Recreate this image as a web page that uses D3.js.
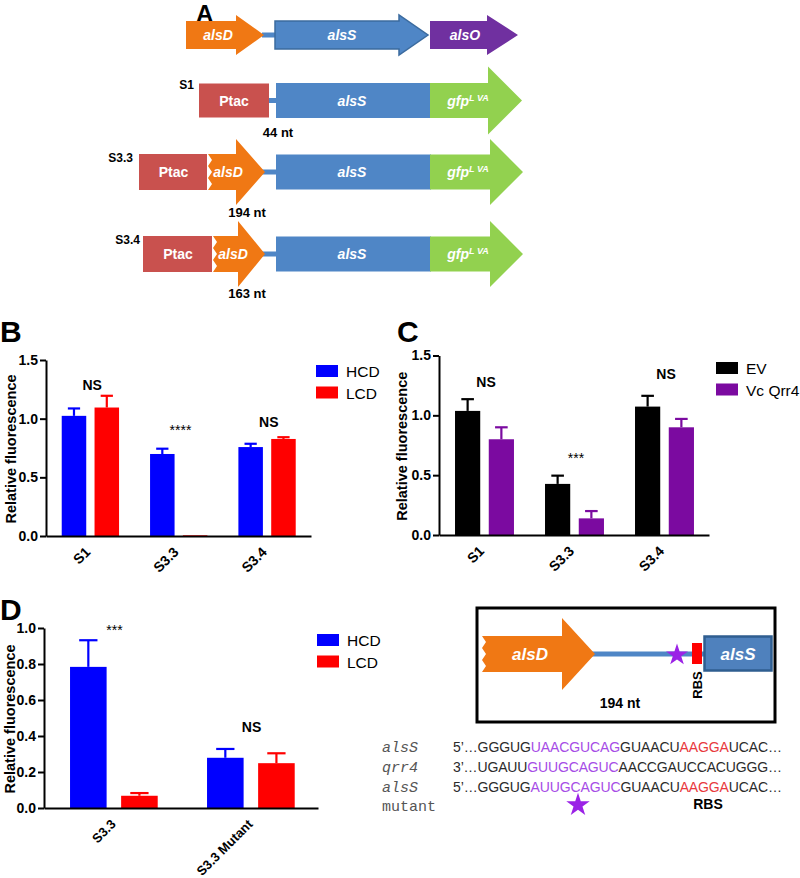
<!DOCTYPE html>
<html><head><meta charset="utf-8">
<script src="https://cdn.jsdelivr.net/npm/d3@7"></script>
<style>
body{margin:0;background:#fff}
svg{display:block;font-family:"Liberation Sans",Arial,sans-serif}
</style>
</head><body>
<svg id="fig" width="800" height="878"></svg>
<script>
// ---------------- data ----------------
const categoriesBC = ["S1", "S3.3", "S3.4"];
const seriesB = ["HCD", "LCD"];
const hcdB = [1.024, 0.699, 0.758];
const hcdBErr = [0.063, 0.045, 0.028];
const lcdB = [1.095, 0.006, 0.827];
const lcdBErr = [0.100, 0.000, 0.015];
const sigB = ["NS", "****", "NS"];
const sigBLevel = [1.245, 0.861, 0.929];

const seriesC = ["EV", "Vc Qrr4"];
const evC = [1.037, 0.427, 1.073];
const evCErr = [0.098, 0.069, 0.090];
const qrrC = [0.800, 0.139, 0.900];
const qrrCErr = [0.100, 0.061, 0.070];
const sigC = ["NS", "***", "NS"];
const sigCLevel = [1.237, 0.602, 1.304];

const categoriesD = ["S3.3", "S3.3 Mutant"];
const seriesD = ["HCD", "LCD"];
const hcdD = [0.784, 0.279];
const hcdDErr = [0.148, 0.049];
const lcdD = [0.068, 0.249];
const lcdDErr = [0.015, 0.055];
const sigD = ["***", "NS"];
const sigDLevel = [0.961, 0.422];

const ticksBC = [0, 0.5, 1.0, 1.5];
const ticksD = [0, 0.2, 0.4, 0.6, 0.8, 1.0];

const colorsHL = ["#0000ff", "#ff0000"];
const colorsEQ = ["#000000", "#7b0aa0"];

const seqLabels = ["alsS", "qrr4", "alsS", "mutant"];
const seqRows = [
  [["5’…GGGUG","n"],["UAACGUCAG","p"],["GUAACU","n"],["AAGGA","r"],["UCAC…","n"]],
  [["3’…UGAUU","n"],["GUUGCAGUC","p"],["AACCGAUCCACUGGG…","n"]],
  [["5’…GGGUG","n"],["AUUGCAGUC","p"],["GUAACU","n"],["AAGGA","r"],["UCAC…","n"]]
];

// ---------------- drawing ----------------
const svg = d3.select("#fig");
const FONT = '"Liberation Sans",Arial,sans-serif';
const MONO = '"Liberation Mono","Courier New",monospace';

function barPanel(o) {
  const g = svg.append("g");
  const x = d3.scaleBand().domain(o.cats).range([o.x0, o.x1]).padding(0);
  const bw = x.bandwidth();
  const xs = d3.scaleBand().domain(o.series).range([o.inner[0]*bw, o.inner[1]*bw]).paddingInner(o.padInner);
  const y = d3.scaleLinear().domain([0, o.max]).range([o.yBot, o.yTop]);

  o.series.forEach((s, si) => {
    const vals = o.vals[si], errs = o.errs[si];
    const gg = g.append("g");
    gg.selectAll("rect").data(o.cats).join("rect")
      .attr("x", c => x(c) + xs(s))
      .attr("y", (c, i) => y(vals[i]))
      .attr("width", xs.bandwidth())
      .attr("height", (c, i) => y(0) - y(vals[i]))
      .attr("fill", o.colors[si]);
    const cw = xs.bandwidth() * 0.5;
    o.cats.forEach((c, i) => {
      if (errs[i] <= 0) return;
      const cx = x(c) + xs(s) + xs.bandwidth()/2;
      gg.append("line").attr("x1", cx).attr("x2", cx)
        .attr("y1", y(vals[i])).attr("y2", y(vals[i] + errs[i]))
        .attr("stroke", o.colors[si]).attr("stroke-width", 2.2);
      gg.append("line").attr("x1", cx - cw/2).attr("x2", cx + cw/2)
        .attr("y1", y(vals[i] + errs[i])).attr("y2", y(vals[i] + errs[i]))
        .attr("stroke", o.colors[si]).attr("stroke-width", 2.2);
    });
  });

  const ya = g.append("g").attr("transform", `translate(${o.x0},0)`)
    .call(d3.axisLeft(y).tickValues(o.ticks).tickFormat(d3.format(".1f")).tickSize(6).tickSizeOuter(0).tickPadding(2));
  ya.select(".domain").attr("stroke-width", 2);
  ya.selectAll(".tick line").attr("stroke-width", 2);
  ya.selectAll(".tick text").style("font-family", FONT).style("font-weight", "bold").style("font-size", "14px").attr("fill", "#000");

  const xa = g.append("g").attr("transform", `translate(0,${o.yBot})`)
    .call(d3.axisBottom(x).tickSize(0).tickSizeOuter(0).tickFormat(""));
  xa.select(".domain").attr("stroke-width", 2);
  g.selectAll("text.cat").data(o.cats).join("text").attr("class", "cat")
    .attr("transform", c => `translate(${x(c) + x.bandwidth()/2 + o.labOff[0]},${o.yBot + o.labOff[1]}) rotate(-45)`)
    .attr("text-anchor", "end").attr("font-weight", "bold").attr("font-size", o.labSize)
    .text(c => c);

  g.append("text").attr("transform", `translate(${o.titleX},${(o.yTop + o.yBot)/2 + 1}) rotate(-90)`)
    .attr("text-anchor", "middle").attr("font-weight", "bold").attr("font-size", 14.5)
    .text("Relative fluorescence");

  g.selectAll("text.sig").data(o.cats).join("text").attr("class", "sig")
    .attr("x", c => x(c) + x.bandwidth()/2 + 2)
    .attr("y", (c, i) => y(o.sigLevel[i]))
    .attr("text-anchor", "middle")
    .attr("font-weight", (c, i) => o.sig[i] === "NS" ? "bold" : "normal")
    .attr("font-size", 14)
    .text((c, i) => o.sig[i]);

  const lg = g.append("g").attr("transform", `translate(${o.legend[0]},${o.legend[1]})`);
  o.series.forEach((s, si) => {
    lg.append("rect").attr("x", 0).attr("y", si*21.5).attr("width", 22).attr("height", 12).attr("fill", o.colors[si]);
    lg.append("text").attr("x", 30).attr("y", si*21.5 + 12).attr("font-size", 15.5).text(s);
  });
}

barPanel({x0:46, x1:311, yTop:360, yBot:536, max:1.5, ticks:ticksBC, cats:categoriesBC, series:seriesB,
  vals:[hcdB, lcdB], errs:[hcdBErr, lcdBErr], colors:colorsHL, sig:sigB, sigLevel:sigBLevel,
  inner:[0.178, 0.827], padInner:0.253, labOff:[1, 17], labSize:14, legend:[316, 365], titleX:16});

barPanel({x0:439, x1:709, yTop:355.5, yBot:535, max:1.5, ticks:ticksBC, cats:categoriesBC, series:seriesC,
  vals:[evC, qrrC], errs:[evCErr, qrrCErr], colors:colorsEQ, sig:sigC, sigLevel:sigCLevel,
  inner:[0.178, 0.833], padInner:0.253, labOff:[1, 17], labSize:14, legend:[716, 362], titleX:407});

barPanel({x0:44, x1:318, yTop:628, yBot:808, max:1.0, ticks:ticksD, cats:categoriesD, series:seriesD,
  vals:[hcdD, lcdD], errs:[hcdDErr, lcdDErr], colors:colorsHL, sig:sigD, sigLevel:sigDLevel,
  inner:[0.19, 0.83], padInner:0.284, labOff:[4, 17], labSize:13, legend:[317, 634], titleX:15});

[["A",196,22,24],["B",0,342,30],["C",397,342,30],["D",0,620,30]].forEach(([t,x,y,s]) =>
  svg.append("text").attr("x", x).attr("y", y).attr("font-weight", "bold").attr("font-size", s).text(t));

// ---------------- schematic (A) ----------------
const ORANGE = "#f07814", BLUE = "#4f86c6", BLUEB = "#3b6b9f", PURPLE = "#7030a0", PTAC = "#c9514e", GREEN = "#92d14f";
function arrowPath(x0, x1, hs, cy, bh, hh, zig) {
  let p = `M${x0},${cy - bh/2} L${hs},${cy - bh/2} L${hs},${cy - hh/2} L${x1},${cy} L${hs},${cy + hh/2} L${hs},${cy + bh/2} L${x0},${cy + bh/2}`;
  if (zig) {
    const n = 6;
    for (let k = 1; k <= n; k++) {
      const yy = cy + bh/2 - bh * k / n;
      p += ` L${x0 + (k % 2 ? 4 : 0)},${yy}`;
    }
  }
  return p + " Z";
}
function geneText(x, y, t, size, italic) {
  svg.append("text").attr("x", x).attr("y", y + size*0.36).attr("text-anchor", "middle")
    .attr("font-weight", "bold").attr("font-style", italic ? "italic" : "normal")
    .attr("font-size", size).attr("fill", "#fff").text(t);
}
function gfpText(x, y) {
  const t = svg.append("text").attr("x", x).attr("y", y + 5).attr("text-anchor", "middle")
    .attr("font-weight", "bold").attr("font-style", "italic").attr("font-size", 14).attr("fill", "#fff");
  t.append("tspan").text("gfp");
  t.append("tspan").attr("font-size", 9).attr("dy", -5).text("L VA");
}
function connector(x0, x1, cy) {
  svg.append("rect").attr("x", x0).attr("y", cy - 2.5).attr("width", x1 - x0).attr("height", 5).attr("fill", BLUE);
}

{
  const cy = 35;
  connector(262, 277, cy);
  svg.append("path").attr("d", arrowPath(186, 264, 236, cy, 28, 40)).attr("fill", ORANGE);
  svg.append("path").attr("d", arrowPath(275, 428, 399, cy, 28, 40)).attr("fill", BLUE).attr("stroke", BLUEB).attr("stroke-width", 1.5);
  svg.append("path").attr("d", arrowPath(430, 518, 487, cy, 28, 40)).attr("fill", PURPLE);
  geneText(218, cy, "alsD", 14, true);
  geneText(342, cy, "alsS", 14, true);
  geneText(465, cy, "alsO", 14, true);
}
{
  const cy = 100.5;
  connector(268, 277, cy);
  svg.append("rect").attr("x", 199).attr("y", cy - 17).attr("width", 70).attr("height", 34).attr("fill", PTAC);
  svg.append("rect").attr("x", 276).attr("y", cy - 17.5).attr("width", 155).attr("height", 35).attr("fill", BLUE);
  svg.append("path").attr("d", arrowPath(430, 522, 488, cy, 35, 68)).attr("fill", GREEN);
  geneText(234, cy, "Ptac", 14, false);
  geneText(352, cy, "alsS", 14, true);
  gfpText(468, cy);
  svg.append("text").attr("x", 194).attr("y", 89).attr("text-anchor", "end").attr("font-weight", "bold").attr("font-size", 12).text("S1");
  svg.append("text").attr("x", 278).attr("y", 137).attr("text-anchor", "middle").attr("font-weight", "bold").attr("font-size", 13).text("44 nt");
}
[[172, 139, 208, 236, "S3.3", 133, 162, "194 nt", 217], [254, 143, 213, 238, "S3.4", 140, 244, "163 nt", 298]].forEach(([cy, px, ax, hs, lab, lx, ly, nt, nty]) => {
  connector(262, 277, cy);
  svg.append("rect").attr("x", px).attr("y", cy - 18).attr("width", ax - px - 1).attr("height", 36).attr("fill", PTAC);
  svg.append("path").attr("d", arrowPath(ax, 265, hs, cy, 36, 66, true)).attr("fill", ORANGE);
  svg.append("rect").attr("x", 276).attr("y", cy - 17.5).attr("width", 155).attr("height", 35).attr("fill", BLUE);
  svg.append("path").attr("d", arrowPath(430, 523, 490, cy, 35, 66)).attr("fill", GREEN);
  geneText((px + ax)/2, cy, "Ptac", 14, false);
  geneText(ax + 20, cy, "alsD", 14, true);
  geneText(352, cy, "alsS", 14, true);
  gfpText(468, cy);
  svg.append("text").attr("x", lx).attr("y", ly).attr("text-anchor", "end").attr("font-weight", "bold").attr("font-size", 12).text(lab);
  svg.append("text").attr("x", 247).attr("y", nty).attr("text-anchor", "middle").attr("font-weight", "bold").attr("font-size", 13).text(nt);
});

// ---------------- inset (D right) ----------------
{
  const cy = 654;
  svg.append("rect").attr("x", 477).attr("y", 608).attr("width", 298).attr("height", 114)
    .attr("fill", "none").attr("stroke", "#000").attr("stroke-width", 3);
  svg.append("rect").attr("x", 590).attr("y", cy - 2.5).attr("width", 114).attr("height", 5).attr("fill", BLUE);
  svg.append("path").attr("d", arrowPath(482, 595, 562, cy, 36, 72, true)).attr("fill", ORANGE);
  geneText(530, cy, "alsD", 17, true);
  svg.append("path").attr("d", d3.symbol(d3.symbolStar, 150)()).attr("transform", `translate(677,${cy + 1})`).attr("fill", "#9b22e6");
  svg.append("rect").attr("x", 692).attr("y", 643).attr("width", 10).attr("height", 21).attr("fill", "#ff0000");
  svg.append("rect").attr("x", 704.5).attr("y", 636.5).attr("width", 67).attr("height", 34).attr("fill", "#4f81bd").attr("stroke", "#2f5e90").attr("stroke-width", 2.5);
  geneText(738, cy, "alsS", 17, true);
  svg.append("text").attr("transform", "translate(702,685) rotate(-90)").attr("text-anchor", "middle")
    .attr("font-weight", "bold").attr("font-size", 13).text("RBS");
  svg.append("text").attr("x", 620).attr("y", 708).attr("text-anchor", "middle")
    .attr("font-weight", "bold").attr("font-size", 14).text("194 nt");
}

// ---------------- sequences ----------------
const seqColor = {n: "#2b2b2b", p: "#a64ce6", r: "#e8383d"};
const seqY = [752, 772, 792, 811];
seqLabels.forEach((l, i) => {
  svg.append("text").attr("x", 382).attr("y", seqY[i])
    .style("font-family", MONO).style("font-style", i < 3 ? "italic" : "normal")
    .style("font-size", "15px").attr("fill", "#555").text(l);
});
seqRows.forEach((row, i) => {
  const t = svg.append("text").attr("x", 453).attr("y", seqY[i]).attr("font-size", 14)
    .attr("textLength", 329).attr("lengthAdjust", "spacing");
  row.forEach(([s, c]) => t.append("tspan").attr("fill", seqColor[c]).text(s));
});
svg.append("path").attr("d", d3.symbol(d3.symbolStar, 170)()).attr("transform", "translate(578,805)").attr("fill", "#9b22e6");
svg.append("text").attr("x", 708).attr("y", 809).attr("text-anchor", "middle").attr("font-weight", "bold").attr("font-size", 14).text("RBS");
</script>
</body></html>
